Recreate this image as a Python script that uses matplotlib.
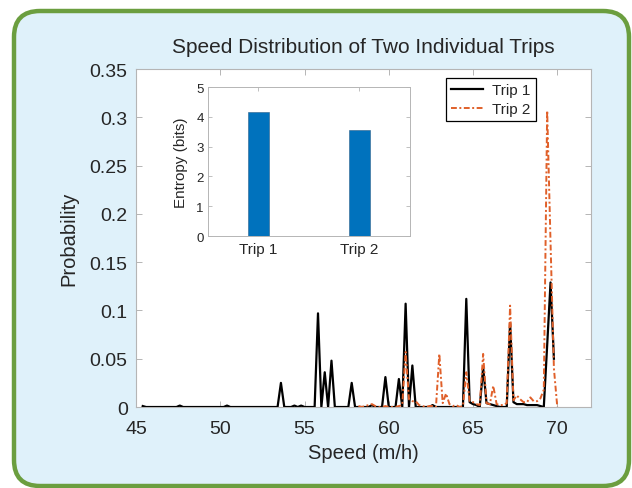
import numpy as np
import matplotlib
matplotlib.use("Agg")
import matplotlib.pyplot as plt
from matplotlib.patches import FancyBboxPatch
from matplotlib.ticker import FuncFormatter

plt.rcParams["font.family"] = ["Liberation Sans", "DejaVu Sans"]

# ---- speed histograms (probability per 0.2 m/h bin) ----
trip1_speed = [45.4, 45.6, 47.4, 47.6, 47.8, 50.2, 50.4, 50.6, 53.4, 53.6, 53.8,
               54.2, 54.4, 54.6, 54.8, 55.0, 55.6, 55.8, 56.0, 56.2, 56.4, 56.6,
               56.8, 57.6, 57.8, 58.0, 58.8, 59.0, 59.2, 59.6, 59.8, 60.0, 60.4,
               60.6, 60.8, 61.0, 61.2, 61.4, 61.6, 62.4, 62.6, 62.8, 64.4, 64.6,
               64.8, 65.0, 65.2, 65.4, 65.6, 65.8, 66.0, 66.2, 66.4, 66.6, 67.0,
               67.2, 67.4, 67.6, 67.8, 68.0, 68.2, 68.4, 68.6, 68.8, 69.0, 69.2,
               69.4, 69.6, 69.8]
trip1_prob = [0.001, 0.0, 0.0, 0.0015, 0.0, 0.0, 0.0015, 0.0, 0.0, 0.025, 0.0,
              0.0, 0.0015, 0.0, 0.0015, 0.0, 0.0, 0.097, 0.0, 0.036, 0.0, 0.048,
              0.0, 0.0, 0.025, 0.0, 0.0, 0.002, 0.0, 0.0, 0.031, 0.0, 0.0,
              0.029, 0.0, 0.107, 0.0, 0.043, 0.0, 0.0, 0.002, 0.0, 0.0, 0.112,
              0.005, 0.003, 0.002, 0.0, 0.041, 0.004, 0.003, 0.002, 0.001, 0.0, 0.0,
              0.087, 0.005, 0.003, 0.003, 0.003, 0.002, 0.002, 0.002, 0.002, 0.001, 0.0,
              0.064, 0.129, 0.05]

trip2_speed = [58.2, 58.4, 58.6, 58.8, 59.0, 59.2, 59.4, 59.6, 59.8, 60.0, 60.4,
               60.6, 60.8, 61.0, 61.2, 61.4, 61.6, 61.8, 62.0, 62.2, 62.4, 62.6,
               62.8, 63.0, 63.2, 63.4, 63.6, 63.8, 64.0, 64.2, 64.4, 64.6, 64.8,
               65.0, 65.2, 65.4, 65.6, 65.8, 66.0, 66.2, 66.4, 66.6, 66.8, 67.0,
               67.2, 67.4, 67.6, 67.8, 68.0, 68.2, 68.4, 68.6, 68.8, 69.0, 69.2,
               69.4, 69.6, 69.8, 70.0]
trip2_prob = [0.001, 0.0, 0.001, 0.002, 0.003, 0.001, 0.0, 0.0, 0.001, 0.0, 0.0,
              0.001, 0.002, 0.057, 0.008, 0.006, 0.006, 0.002, 0.001, 0.0, 0.001, 0.001,
              0.0, 0.055, 0.004, 0.014, 0.003, 0.001, 0.002, 0.0, 0.001, 0.036, 0.006,
              0.005, 0.003, 0.002, 0.055, 0.004, 0.003, 0.022, 0.003, 0.002, 0.002, 0.004,
              0.105, 0.007, 0.012, 0.008, 0.005, 0.005, 0.010, 0.006, 0.006, 0.009, 0.018,
              0.307, 0.17, 0.04, 0.0]

# ---- entropy of each trip ----
trip_names = ["Trip 1", "Trip 2"]
entropy_bits = [4.15, 3.57]

x_ticks = [45, 50, 55, 60, 65, 70]
y_ticks = [0, 0.05, 0.1, 0.15, 0.2, 0.25, 0.3, 0.35]
inset_y_ticks = [0, 1, 2, 3, 4, 5]

panel_bg = "#dff1fa"
panel_edge = "#6b9e3f"
spine_grey = "#b5b5b5"
text_dark = "#262626"
c_trip1 = "black"
c_trip2 = "#e0602a"
c_bar = "#0072bd"

fig = plt.figure(figsize=(6.32, 4.89), dpi=100)

# rounded green panel behind everything (inch coords so the corners stay round)
panel = FancyBboxPatch((0.14, 0.02), 6.15, 4.75,
                       boxstyle="round,pad=0,rounding_size=0.26",
                       transform=fig.dpi_scale_trans,
                       facecolor=panel_bg, edgecolor=panel_edge, linewidth=3.2,
                       zorder=-5)
fig.patches.append(panel)

# ---- main axes ----
ax = fig.add_axes([0.2152, 0.1656, 0.7199, 0.6912])
ax.set_facecolor("white")
ax.plot(trip1_speed, trip1_prob, color=c_trip1, lw=1.6, label="Trip 1", zorder=3)
ax.plot(trip2_speed, trip2_prob, color=c_trip2, lw=1.4, linestyle=(0, (3, 1.3, 1, 1.3)),
        label="Trip 2", zorder=4)

ax.set_xlim(45, 72)
ax.set_ylim(0, 0.35)
ax.set_xticks(x_ticks)
ax.set_yticks(y_ticks)
ax.yaxis.set_major_formatter(FuncFormatter(lambda v, p: "%g" % round(v, 3)))
ax.tick_params(direction="in", length=4, width=0.7, color=spine_grey,
               labelsize=14, labelcolor=text_dark, top=True, right=True)
ax.tick_params(axis="x", pad=9)
ax.tick_params(axis="y", pad=6)
for s in ax.spines.values():
    s.set_color(spine_grey)
    s.set_linewidth(0.8)

ax.set_title("Speed Distribution of Two Individual Trips", fontsize=15,
             color=text_dark, pad=12)
ax.set_xlabel("Speed (m/h)", fontsize=14.5, color=text_dark, labelpad=5)
ax.set_ylabel("Probability", fontsize=14.5, color=text_dark, labelpad=8)

leg = ax.legend(loc="upper right", bbox_to_anchor=(0.879, 0.973), borderaxespad=0,
                fontsize=11, handlelength=2.1, fancybox=False, framealpha=1,
                edgecolor="black", borderpad=0.35, labelspacing=0.3,
                handletextpad=0.6)
leg.get_frame().set_linewidth(0.9)
for t in leg.get_texts():
    t.set_color(text_dark)

# ---- inset: entropy bars ----
ins = fig.add_axes([0.3291, 0.5153, 0.3196, 0.3047])
ins.set_facecolor("white")
ins.bar([1, 2], entropy_bits, width=0.2, color=c_bar, edgecolor="#2c5f8a",
        linewidth=0.4, zorder=3)
ins.set_xlim(0.5, 2.5)
ins.set_ylim(0, 5)
ins.set_xticks([1, 2])
ins.set_xticklabels(trip_names)
ins.set_yticks(inset_y_ticks)
ins.tick_params(direction="in", length=3, width=0.6, color=spine_grey,
                labelcolor=text_dark, top=True, right=True)
ins.tick_params(axis="x", labelsize=11, pad=4)
ins.tick_params(axis="y", labelsize=9.5, pad=3)
for s in ins.spines.values():
    s.set_color(spine_grey)
    s.set_linewidth(0.7)
ins.set_ylabel("Entropy (bits)", fontsize=11, color=text_dark, labelpad=6)

fig.savefig("out.png", dpi=100)
